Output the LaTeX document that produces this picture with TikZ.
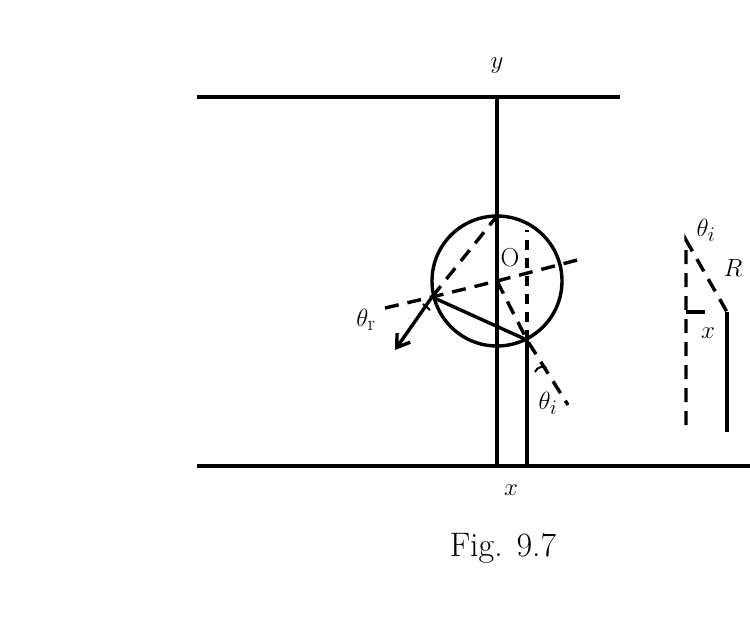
\documentclass[tikz,border=0pt]{standalone}
\usepackage{fontspec}
\usetikzlibrary{arrows.meta}
\begin{document}
\begin{tikzpicture}[x=1pt,y=-1pt,line width=3.4pt,
    dsh/.style={dash pattern=on 14pt off 9pt},
    lbl/.style={font=\fontsize{30}{34}\selectfont}]
    \useasboundingbox (0,0) rectangle (750,630);
    %Plates and axis
    \draw (197,97) -- (620,97);
    \draw (197,466) -- (750,466);
    \draw (497,97) -- (497,466);
    %Sphere
    \coordinate (O) at (497,281);
    \coordinate (P) at (527,340);
    \coordinate (Q) at (432,297);
    \coordinate (T) at (497,216);
    \draw (O) circle (65);
    \draw (527,466) -- (P);
    \draw (P) -- (Q);
    %Dashed rays
    \draw[dsh] (O) -- (P) -- (568,405);
    \draw[dash pattern=on 10pt off 8pt] (P) -- (527,230);
    \draw[dsh] (Q) -- (T);
    \draw[dsh] (385,308) -- (Q) -- (O) -- (585,258);
    \draw[-{Straight Barb[length=12pt,width=16pt]}] (Q) -- (395,350);
    %Angle marks
    \draw[line width=2pt] (535,372) arc[start angle=200,end angle=300,radius=8];
    \draw[line width=2pt] (423,304) -- (430,310);
    %Right detail
    \draw[dsh] (686,425) -- (686,240) -- (727,312);
    \draw (727,312) -- (727,432);
    \draw (686,312) -- (705,312);
    %Labels
    \node[lbl] (ly) at (497,66) {$y$};
    \node[lbl] (lx) at (511,490) {$x$};
    \node[font=\fontsize{26}{30}\selectfont] (lo) at (510,258) {O};
    \node[lbl] (lr) at (366,320) {$\theta_{\mathrm r}$};
    \node[lbl] (li) at (548,403) {$\theta_i$};
    \node[lbl] (ri) at (706,230) {$\theta_i$};
    \node[lbl] (rR) at (733,268) {$R$};
    \node[lbl] (rx) at (708,333) {$x$};
    \node[font=\fontsize{34}{38}\selectfont] (cap) at (503,548) {Fig. 9.7};
\end{tikzpicture}
\end{document}
